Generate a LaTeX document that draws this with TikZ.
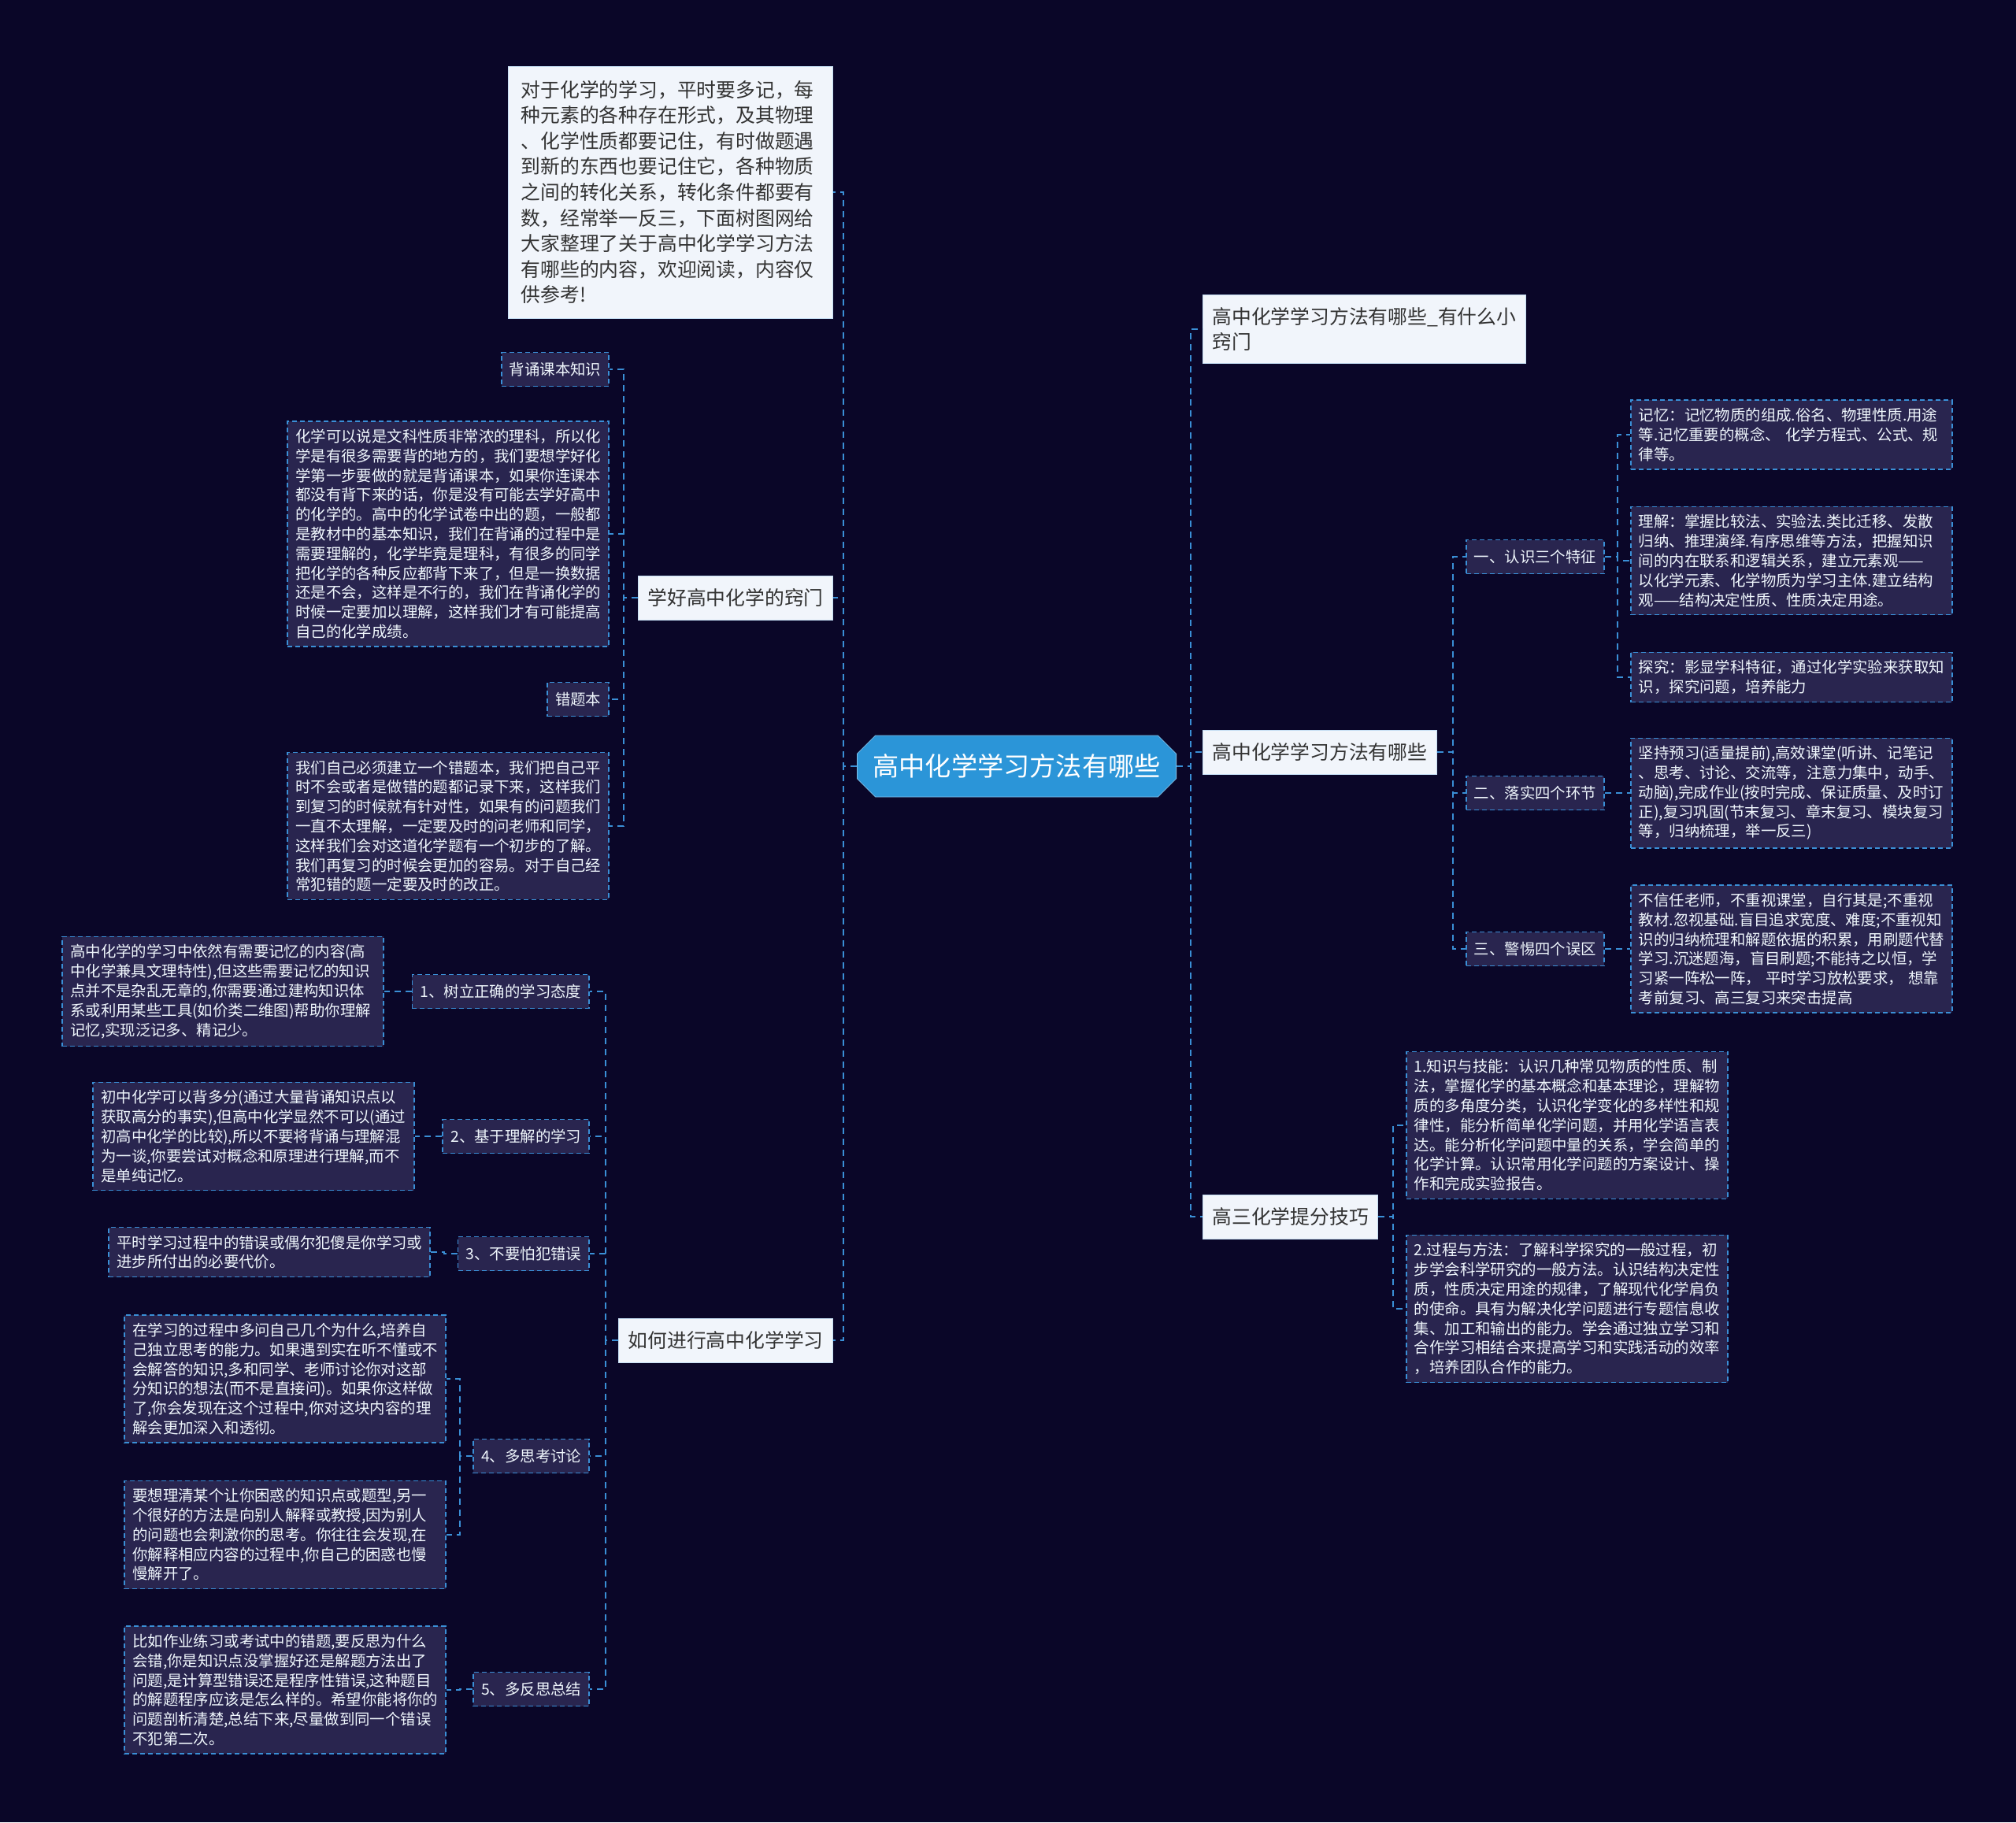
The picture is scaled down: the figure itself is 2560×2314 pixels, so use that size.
\documentclass[tikz,border=0pt]{standalone}
\usepackage{fontspec}
\setmainfont{Noto Sans CJK SC}
\usepackage{xcolor}
\usepackage{tikz}
\usetikzlibrary{shapes.misc}
\definecolor{bgNavy}{HTML}{0A0628}
\definecolor{boxFill}{HTML}{29254F}
\definecolor{lineBlue}{HTML}{3A8FD6}
\definecolor{lightFill}{HTML}{F1F5FB}
\definecolor{rootBlue}{HTML}{2B95D8}
\definecolor{darkText}{HTML}{333333}

\begin{document}
\begin{tikzpicture}[x=0.5pt,y=-0.5pt,
  conn/.style={lineBlue,line width=0.9pt,dash pattern=on 4pt off 3pt},
  desc/.style={draw=lineBlue,line width=0.8pt,dash pattern=on 3pt off 2pt,fill=boxFill,text=white!92!lineBlue,
    font=\fontsize{9.7pt}{12.4pt}\selectfont,align=left,text width=194pt,inner sep=5pt},
  tag/.style={draw=lineBlue,line width=0.8pt,dash pattern=on 3pt off 2pt,fill=boxFill,text=white!92!lineBlue,
    font=\fontsize{9.7pt}{12.4pt}\selectfont,inner xsep=5pt,minimum height=21.5pt},
  topic/.style={fill=lightFill,draw=lineBlue!30,text=darkText,font=\fontsize{12.4pt}{16.3pt}\selectfont,
    align=left,inner xsep=6pt,minimum height=28pt},
  root/.style={chamfered rectangle,chamfered rectangle xsep=8pt,fill=rootBlue,draw=rootBlue!60!white,
    text=white,font=\fontsize{16.6pt}{20pt}\selectfont,minimum width=195pt,minimum height=39pt,inner sep=2pt}]
\fill[bgNavy] (0,0) rectangle (2560,2314);
% --- root ---
\node[root] (root) at (1291,973) {高中化学学习方法有哪些};
% --- left ---
\node[topic,text width=190pt,inner xsep=8pt,inner ysep=9pt,anchor=east] (intro) at (1058,244) {对于化学的学习，平时要多记，每\\种元素的各种存在形式，及其物理\\、化学性质都要记住，有时做题遇\\到新的东西也要记住它，各种物质\\之间的转化关系，转化条件都要有\\数，经常举一反三，下面树图网给\\大家整理了关于高中化学学习方法\\有哪些的内容，欢迎阅读，内容仅\\供参考!};
\node[topic,anchor=east] (tips) at (1058,759) {学好高中化学的窍门};
\node[topic,anchor=east] (how) at (1058,1702) {如何进行高中化学学习};

\node[tag,anchor=east] (recite) at (774,469) {背诵课本知识};
\node[desc,anchor=east] (reciteTxt) at (774,678) {化学可以说是文科性质非常浓的理科，所以化\\学是有很多需要背的地方的，我们要想学好化\\学第一步要做的就是背诵课本，如果你连课本\\都没有背下来的话，你是没有可能去学好高中\\的化学的。高中的化学试卷中出的题，一般都\\是教材中的基本知识，我们在背诵的过程中是\\需要理解的，化学毕竟是理科，有很多的同学\\把化学的各种反应都背下来了，但是一换数据\\还是不会，这样是不行的，我们在背诵化学的\\时候一定要加以理解，这样我们才有可能提高\\自己的化学成绩。};
\node[tag,anchor=east] (wrong) at (774,888) {错题本};
\node[desc,anchor=east] (wrongTxt) at (774,1049) {我们自己必须建立一个错题本，我们把自己平\\时不会或者是做错的题都记录下来，这样我们\\到复习的时候就有针对性，如果有的问题我们\\一直不太理解，一定要及时的问老师和同学，\\这样我们会对这道化学题有一个初步的了解。\\我们再复习的时候会更加的容易。对于自己经\\常犯错的题一定要及时的改正。};

\node[tag,anchor=east] (s1) at (749,1259) {1、树立正确的学习态度};
\node[desc,anchor=east] (s1a) at (488,1259) {高中化学的学习中依然有需要记忆的内容(高\\中化学兼具文理特性),但这些需要记忆的知识\\点并不是杂乱无章的,你需要通过建构知识体\\系或利用某些工具(如价类二维图)帮助你理解\\记忆,实现泛记多、精记少。};
\node[tag,anchor=east] (s2) at (749,1443) {2、基于理解的学习};
\node[desc,anchor=east] (s2a) at (527,1443) {初中化学可以背多分(通过大量背诵知识点以\\获取高分的事实),但高中化学显然不可以(通过\\初高中化学的比较),所以不要将背诵与理解混\\为一谈,你要尝试对概念和原理进行理解,而不\\是单纯记忆。};
\node[tag,anchor=east] (s3) at (749,1592) {3、不要怕犯错误};
\node[desc,anchor=east] (s3a) at (547,1590) {平时学习过程中的错误或偶尔犯傻是你学习或\\进步所付出的必要代价。};
\node[tag,anchor=east] (s4) at (749,1849) {4、多思考讨论};
\node[desc,anchor=east] (s4a) at (567,1751) {在学习的过程中多问自己几个为什么,培养自\\己独立思考的能力。如果遇到实在听不懂或不\\会解答的知识,多和同学、老师讨论你对这部\\分知识的想法(而不是直接问)。如果你这样做\\了,你会发现在这个过程中,你对这块内容的理\\解会更加深入和透彻。};
\node[desc,anchor=east] (s4b) at (567,1949) {要想理清某个让你困惑的知识点或题型,另一\\个很好的方法是向别人解释或教授,因为别人\\的问题也会刺激你的思考。你往往会发现,在\\你解释相应内容的过程中,你自己的困惑也慢\\慢解开了。};
\node[tag,anchor=east] (s5) at (749,2145) {5、多反思总结};
\node[desc,anchor=east] (s5a) at (567,2146) {比如作业练习或考试中的错题,要反思为什么\\会错,你是知识点没掌握好还是解题方法出了\\问题,是计算型错误还是程序性错误,这种题目\\的解题程序应该是怎么样的。希望你能将你的\\问题剖析清楚,总结下来,尽量做到同一个错误\\不犯第二次。};
% --- right ---
\node[topic,anchor=west,inner ysep=8pt] (trick) at (1527,418) {高中化学学习方法有哪些\_有什么小\\窍门};
\node[topic,anchor=west] (way) at (1527,955) {高中化学学习方法有哪些};
\node[topic,anchor=west] (senior) at (1527,1545) {高三化学提分技巧};

\node[tag,anchor=west] (r1) at (1861,707) {一、认识三个特征};
\node[desc,anchor=west] (r1a) at (2070,552) {记忆：记忆物质的组成.俗名、物理性质.用途\\等.记忆重要的概念、 化学方程式、公式、规\\律等。};
\node[desc,anchor=west] (r1b) at (2070,712) {理解：掌握比较法、实验法.类比迁移、发散\\归纳、推理演绎.有序思维等方法，把握知识\\间的内在联系和逻辑关系，建立元素观——\\以化学元素、化学物质为学习主体.建立结构\\观——结构决定性质、性质决定用途。};
\node[desc,anchor=west] (r1c) at (2070,860) {探究：影显学科特征，通过化学实验来获取知\\识，探究问题，培养能力};
\node[tag,anchor=west] (r2) at (1861,1007) {二、落实四个环节};
\node[desc,anchor=west] (r2a) at (2070,1007) {坚持预习(适量提前),高效课堂(听讲、记笔记\\、思考、讨论、交流等，注意力集中，动手、\\动脑),完成作业(按时完成、保证质量、及时订\\正),复习巩固(节末复习、章末复习、模块复习\\等，归纳梳理，举一反三)};
\node[tag,anchor=west] (r3) at (1861,1205) {三、警惕四个误区};
\node[desc,anchor=west] (r3a) at (2070,1205) {不信任老师，不重视课堂，自行其是;不重视\\教材.忽视基础.盲目追求宽度、难度;不重视知\\识的归纳梳理和解题依据的积累，用刷题代替\\学习.沉迷题海，盲目刷题;不能持之以恒，学\\习紧一阵松一阵， 平时学习放松要求， 想靠\\考前复习、高三复习来突击提高};
\node[desc,anchor=west] (k1) at (1785,1429) {1.知识与技能：认识几种常见物质的性质、制\\法，掌握化学的基本概念和基本理论，理解物\\质的多角度分类，认识化学变化的多样性和规\\律性，能分析简单化学问题，并用化学语言表\\达。能分析化学问题中量的关系，学会简单的\\化学计算。认识常用化学问题的方案设计、操\\作和完成实验报告。};
\node[desc,anchor=west] (k2) at (1785,1662) {2.过程与方法：了解科学探究的一般过程，初\\步学会科学研究的一般方法。认识结构决定性\\质，性质决定用途的规律，了解现代化学肩负\\的使命。具有为解决化学问题进行专题信息收\\集、加工和输出的能力。学会通过独立学习和\\合作学习相结合来提高学习和实践活动的效率\\，培养团队合作的能力。};
% --- connectors ---
\foreach \n in {intro,tips,how} \draw[conn] (root.west) -- ++(-17,0) |- (\n.east);
\foreach \n in {trick,way,senior} \draw[conn] (root.east) -- ++(18,0) |- (\n.west);
\foreach \n in {recite,reciteTxt,wrong,wrongTxt} \draw[conn] (tips.west) -- ++(-18,0) |- (\n.east);
\foreach \n in {s1,s2,s3,s4,s5} \draw[conn] (how.west) -- ++(-16,0) |- (\n.east);
\draw[conn] (s1.west) -- ++(-17,0) |- (s1a.east);
\draw[conn] (s2.west) -- ++(-18,0) |- (s2a.east);
\draw[conn] (s3.west) -- ++(-17,0) |- (s3a.east);
\foreach \n in {s4a,s4b} \draw[conn] (s4.west) -- ++(-16,0) |- (\n.east);
\draw[conn] (s5.west) -- ++(-16,0) |- (s5a.east);
\foreach \n in {r1,r2,r3} \draw[conn] (way.east) -- ++(20,0) |- (\n.west);
\foreach \n in {r1a,r1b,r1c} \draw[conn] (r1.east) -- ++(16,0) |- (\n.west);
\draw[conn] (r2.east) -- ++(17,0) |- (r2a.west);
\draw[conn] (r3.east) -- ++(17,0) |- (r3a.west);
\foreach \n in {k1,k2} \draw[conn] (senior.east) -- ++(19,0) |- (\n.west);
\end{tikzpicture}
\end{document}
